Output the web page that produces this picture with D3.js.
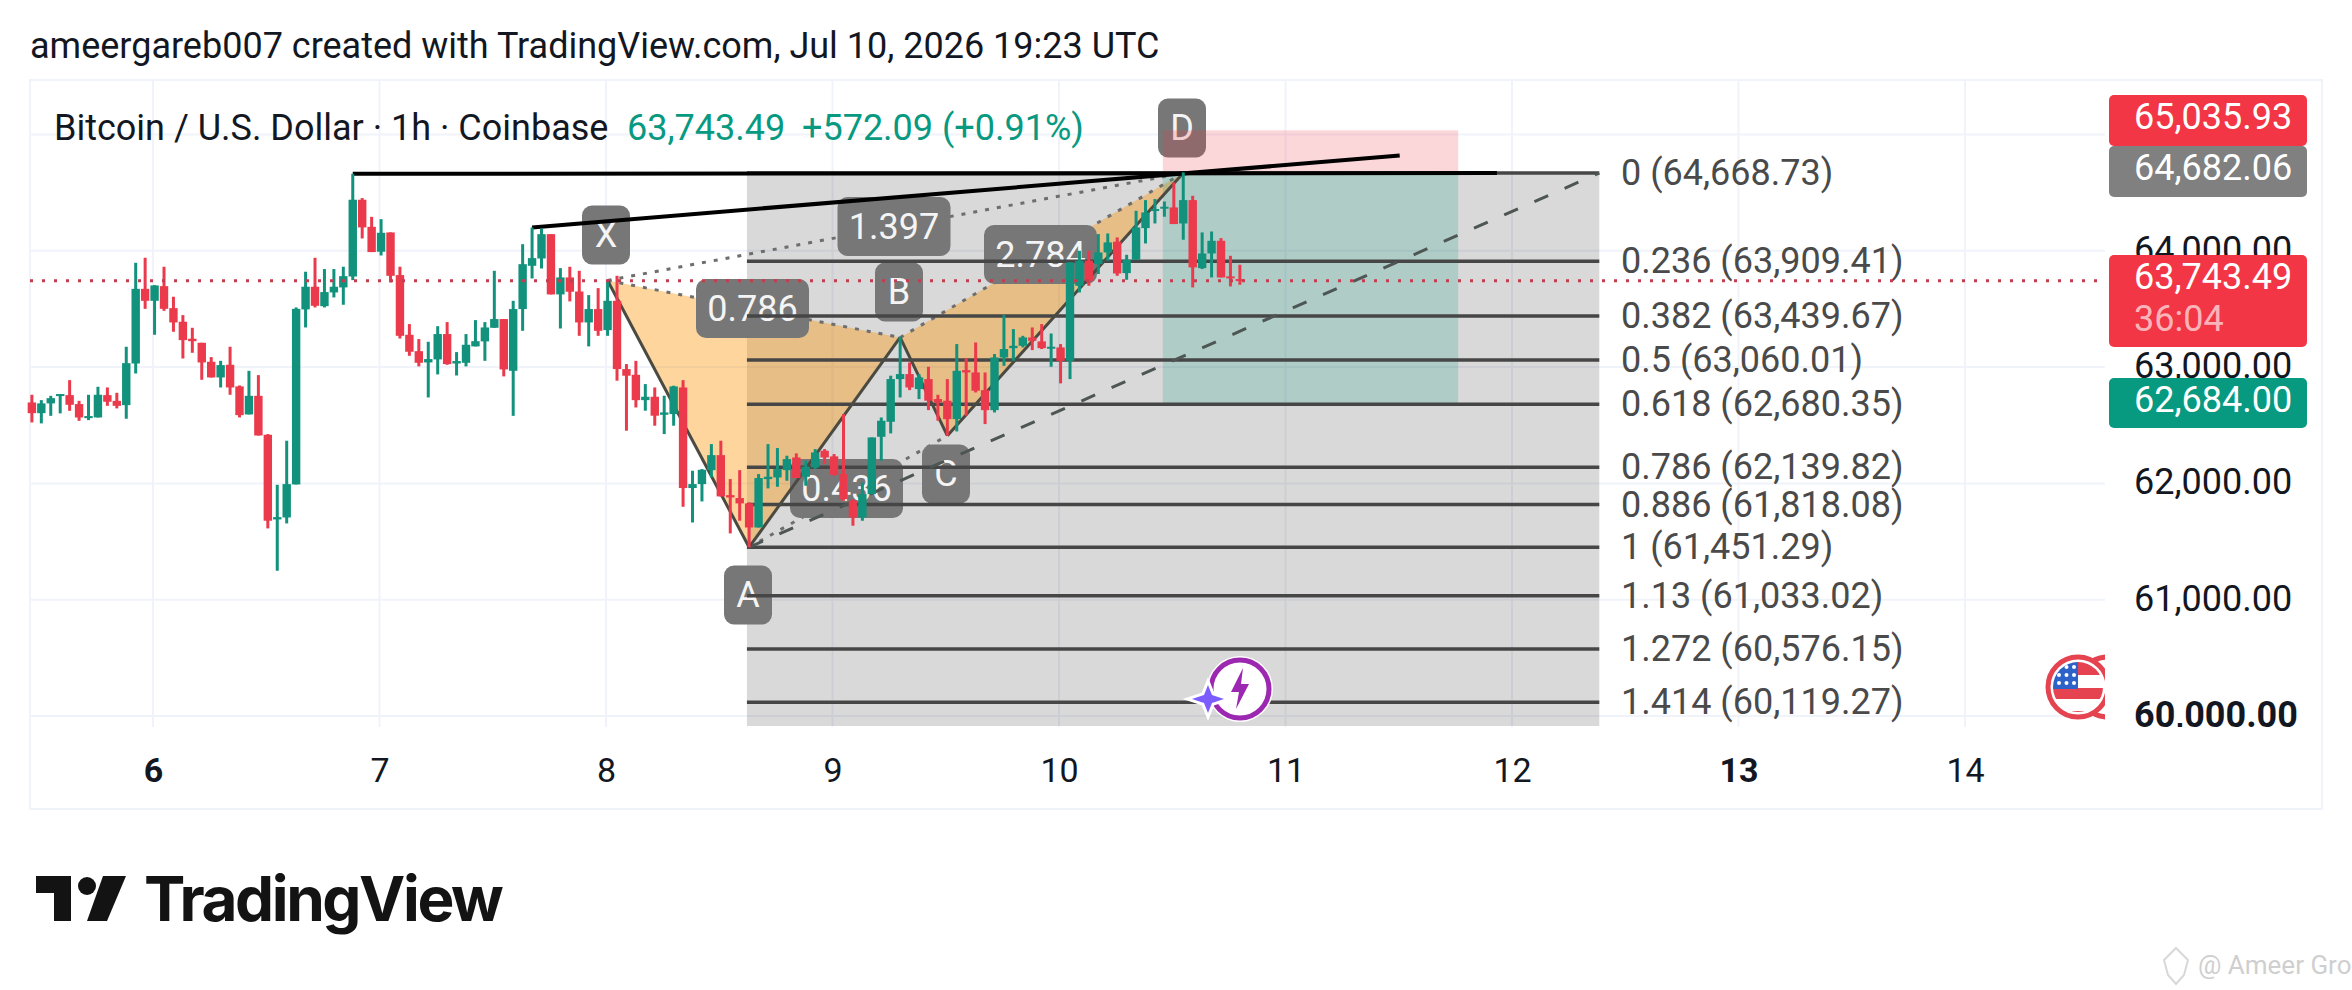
<!DOCTYPE html>
<html lang="en">
<head>
<meta charset="UTF-8">
<title>BTCUSD 1h</title>
<script src="https://d3js.org/d3.v7.min.js"></script>
<style>
  body { margin: 0; background: #fff; }
  text { font-family: Roboto, sans-serif; }
</style>
</head>
<body>
<svg id="mainsvg" width="2352" height="990"></svg>
<script>
// candles, first bar is Jul 5 11:00
const opens = [
  62696,62604,62688,62753,62759,62682,62561,62567,62759,62710,
  62673,63031,63673,63570,63696,63507,63390,63244,63209,63046,
  62911,63020,62834,62593,62753,62418,61690,61707,61991,63496,
  63691,63524,63642,63685,63779,64439,64206,63992,64158,63791,
  63278,63137,63040,63066,63284,63031,63037,63178,63221,63338,
  63413,62968,63499,63871,63934,64143,63625,63771,63650,63384,
  63499,63318,63570,62983,62934,62716,62745,62590,62596,62825,
  61960,61994,62114,62243,61899,61874,61828,61621,62037,62051,
  62114,62223,62057,62137,62281,62232,62080,61851,61707,61908,
  62401,62530,62897,62940,62811,62897,62725,62711,62553,62974,
  62954,62802,62630,63083,63163,63183,63255,63221,63163,63169,
  63054,63699,63914,63886,63986,64078,63808,63923,64195,64344,
  64367,64373,64235,64436,63851,63977,64086,63780,63757];
const highs = [
  62762,62716,62753,62768,62888,62710,62762,62831,62825,62779,
  63175,63897,63940,63705,63863,63605,63447,63338,63209,63086,
  63054,63175,62842,62968,62931,62424,61988,62367,63513,63820,
  63940,63843,63843,63863,64662,64453,64292,64272,64158,63863,
  63370,63241,63218,63352,63387,63129,63284,63404,63387,63828,
  63413,63570,64057,64201,64192,64143,63851,63863,63828,63619,
  63679,63748,63785,63026,63054,62854,62825,62754,62840,62888,
  62109,62123,62338,62367,62037,62114,61836,62080,62338,62304,
  62238,62258,62195,62295,62295,62252,62596,61865,62008,62395,
  62567,62926,63261,63040,62940,63003,62762,62897,63198,63077,
  63212,62954,63112,63450,63327,63269,63341,63370,63289,63198,
  63900,64000,64000,64144,64149,64115,63966,64344,64436,64445,
  64424,64588,64674,64473,64158,64166,64109,63957,63880];
const lows = [
  62524,62516,62581,62602,62624,62538,62544,62567,62667,62645,
  62556,62945,63501,63278,63484,63304,63074,63123,62891,62911,
  62825,62762,62567,62593,62412,61613,61249,61656,61991,63341,
  63513,63513,63599,63536,63748,64106,63989,63960,63728,63246,
  63097,63006,62739,62937,63020,62928,63006,63178,63054,63338,
  62920,62581,63312,63762,63848,63625,63332,63565,63269,63178,
  63269,63269,62883,62453,62653,62625,62496,62424,62496,61799,
  61664,61845,62051,61888,61570,61679,61450,61621,61957,61971,
  62023,62046,61980,62123,62166,62066,61851,61636,61679,61908,
  62195,62430,62739,62802,62725,62630,62539,62410,62447,62582,
  62782,62510,62610,63011,63054,63169,63146,63155,63003,62860,
  62897,63642,63699,63800,63914,63785,63751,63923,64063,64235,
  64293,64230,64095,63685,63843,63771,63771,63694,63708];
const closes = [
  62604,62688,62733,62768,62676,62567,62579,62762,62702,62667,
  63034,63673,63570,63702,63501,63384,63232,63223,63040,62911,
  63017,62825,62587,62753,62412,61679,61710,61994,63501,63691,
  63527,63645,63691,63782,64439,64201,63989,64155,63785,63269,
  63132,63037,63069,63284,63026,63052,63192,63223,63341,63413,
  62980,63499,63885,63937,64143,63625,63771,63648,63384,63499,
  63312,63570,62983,62926,62716,62745,62582,62610,62834,61960,
  61994,62117,62243,61888,61879,61828,61621,62046,62057,62123,
  62209,62046,62143,62266,62223,62074,61865,61707,61908,62395,
  62539,62897,62940,62825,62911,62711,62696,62553,62968,62954,
  62797,62630,63083,63155,63183,63255,63226,63163,63175,63054,
  63900,63914,63742,63986,64072,63805,63923,64201,64330,64359,
  64379,64230,64436,63857,63977,64086,63771,63765,63743.49];

const dayTicks = [6,7,8,9,10,11,12,13,14];
const boldDays = [6,13];
const priceTicks = [65000,64000,63000,62000,61000,60000];
const priceLabels = [64000,63000,62000,61000,60000];

// fib retracement
const fibRatios = ['0','0.236','0.382','0.5','0.618','0.786','0.886','1','1.13','1.272','1.414'];
const fibPrices = [64668.73,63909.41,63439.67,63060.01,62680.35,62139.82,61818.08,61451.29,61033.02,60576.15,60119.27];

// harmonic pattern points: bar index + price
const patNames = ['X','A','B','C','D'];
const patBars = [61,76,92,97,122];
const patPrices = [63745,61451,63255,62410,64668.73];
const ratioText = ['0.786','0.436','1.397','2.784'];

const posEntry = 64668.73, posStop = 65035.93, posTarget = 62684;

const W = 2352, H = 990;
const svg = d3.select('#mainsvg');
const green = '#089981', red = '#f23645';
const candleGreen = '#12927c', candleRed = '#ea3a4c';

const hr = (d, h, m) => new Date(Date.UTC(2026, 6, d, h, m || 0));
const barTime = i => new Date(Date.UTC(2026, 6, 5, 11 + i, 10));

const xScale = d3.scaleUtc().domain([hr(6,0), hr(14,0)]).range([153, 1965]);
const yScale = d3.scaleLinear().domain([60000, 65000]).range([716, 134.5]);
const X = d => xScale(d), Y = p => yScale(p);

// frame + grid
svg.append('rect').attr('x',30).attr('y',80).attr('width',2292).attr('height',729)
  .attr('fill','#fff').attr('stroke','#f0f3fa').attr('stroke-width',2);
const gridColor = '#f0f3fa';
svg.append('g').selectAll('line').data(dayTicks).join('line')
  .attr('x1', d => X(hr(d,0))).attr('x2', d => X(hr(d,0)))
  .attr('y1', 80).attr('y2', 727).attr('stroke', gridColor).attr('stroke-width', 2);
svg.append('g').selectAll('line').data(priceTicks).join('line')
  .attr('x1', 30).attr('x2', 2105)
  .attr('y1', d => Y(d)).attr('y2', d => Y(d)).attr('stroke', gridColor).attr('stroke-width', 2);

// fib background
const fibLeft = hr(8,14,56), fibRight = hr(12,9,15);
svg.append('rect').attr('x', X(fibLeft)).attr('width', X(fibRight) - X(fibLeft))
  .attr('y', Y(fibPrices[0])).attr('height', 726 - Y(fibPrices[0]))
  .attr('fill', 'rgba(0,0,0,0.15)');

// pattern fill
const pt = i => [X(barTime(patBars[i])), Y(patPrices[i])];
const tri = (a, b, c) => 'M' + [pt(a), pt(b), pt(c)].join('L') + 'Z';
const pat = svg.append('g');
[[0,1,2],[2,3,4]].forEach(t => {
  pat.append('path').attr('d', tri(t[0],t[1],t[2])).attr('fill', 'rgba(250,150,10,0.4)');
});
// dotted sides
[[0,2],[2,4],[0,4],[1,3]].forEach(s => {
  pat.append('line')
    .attr('x1', pt(s[0])[0]).attr('y1', pt(s[0])[1])
    .attr('x2', pt(s[1])[0]).attr('y2', pt(s[1])[1])
    .attr('stroke', '#6e6e6e').attr('stroke-width', 3).attr('stroke-dasharray', '4 8');
});

// gray tags of the pattern
const tagW = 48, ratioW = 113, tagH = 59;
const patTagPos = [[606,235],[748,595],[899,292],[946,474],[1182,128]];
const ratioPos = [[752.5,308.5],[846.5,488.5],[894,226.5],[1040.5,254.5]];
const tags = svg.append('g');
function addTag(cx, cy, w, label) {
  tags.append('rect').attr('x', cx - w/2).attr('y', cy - tagH/2).attr('width', w).attr('height', tagH)
    .attr('rx', 10).attr('fill', '#777');
  tags.append('text').attr('x', cx).attr('y', cy).attr('text-anchor','middle')
    .attr('dominant-baseline','central').attr('font-size', 36).attr('fill','#f4f4f4').text(label);
}
patNames.forEach((n, i) => addTag(patTagPos[i][0], patTagPos[i][1], tagW, n));
ratioText.forEach((t, i) => addTag(ratioPos[i][0], ratioPos[i][1], ratioW, t));

// long position box
const posLeft = hr(10,11), posRight = hr(11,18,18);
svg.append('rect').attr('x', X(posLeft)).attr('width', X(posRight)-X(posLeft))
  .attr('y', Y(posStop)).attr('height', Y(posEntry)-Y(posStop)).attr('fill','rgba(242,54,69,0.2)');
svg.append('rect').attr('x', X(posLeft)).attr('width', X(posRight)-X(posLeft))
  .attr('y', Y(posEntry)).attr('height', Y(posTarget)-Y(posEntry)).attr('fill','rgba(8,153,129,0.2)');

// fib lines and labels
svg.append('g').selectAll('line').data(fibPrices).join('line')
  .attr('x1', X(fibLeft)).attr('x2', X(fibRight))
  .attr('y1', d => Y(d)).attr('y2', d => Y(d))
  .attr('stroke', '#464646').attr('stroke-width', 3.5);
svg.append('g').selectAll('text').data(fibPrices).join('text')
  .attr('x', 1621).attr('y', d => Y(d)).attr('dominant-baseline','central')
  .attr('font-size', 36).attr('fill', '#4a4a4a')
  .text((d, i) => fibRatios[i] + ' (' + d3.format(',.2f')(d) + ')');

// fib trend line
svg.append('line')
  .attr('x1', pt(1)[0]).attr('y1', pt(1)[1])
  .attr('x2', X(fibRight)).attr('y2', Y(fibPrices[0]))
  .attr('stroke', '#4d5653').attr('stroke-width', 3).attr('stroke-dasharray', '15 18');

// solid pattern legs
[[0,1],[1,2],[2,3],[3,4]].forEach(s => {
  svg.append('line')
    .attr('x1', pt(s[0])[0]).attr('y1', pt(s[0])[1])
    .attr('x2', pt(s[1])[0]).attr('y2', pt(s[1])[1])
    .attr('stroke', '#4a4a42').attr('stroke-width', 3);
});

// black trend lines
const line = d3.line().x(d => X(d[0])).y(d => Y(d[1]));
const trends = [
  [[barTime(34), highs[34]], [hr(11,22,24), 64668]],
  [[barTime(53), highs[53]], [hr(11,12,6), 64819]]
];
svg.append('g').selectAll('path').data(trends).join('path')
  .attr('d', line).attr('fill','none').attr('stroke','#000').attr('stroke-width',4);

// candles
const bars = d3.range(opens.length);
const barColor = i => closes[i] >= opens[i] ? candleGreen : candleRed;
const candles = svg.append('g');
candles.selectAll('line').data(bars).join('line')
  .attr('x1', i => X(barTime(i))).attr('x2', i => X(barTime(i)))
  .attr('y1', i => Y(highs[i])).attr('y2', i => Y(lows[i]))
  .attr('stroke', barColor).attr('stroke-width', 3);
candles.selectAll('rect').data(bars).join('rect')
  .attr('x', i => X(barTime(i)) - 4.2).attr('width', 8.4)
  .attr('y', i => Y(Math.max(opens[i], closes[i])))
  .attr('height', i => Math.max(2, Math.abs(Y(opens[i]) - Y(closes[i]))))
  .attr('fill', barColor);

// last price line
const lastPrice = closes[closes.length - 1];
svg.append('line').attr('x1', 30).attr('x2', 2100)
  .attr('y1', Y(lastPrice)).attr('y2', Y(lastPrice))
  .attr('stroke', '#c43c50').attr('stroke-width', 3).attr('stroke-dasharray', '3 9');

// time axis
const xAxis = d3.axisBottom(xScale)
  .tickValues(dayTicks.map(d => hr(d,0)))
  .tickFormat(d => d.getUTCDate()).tickSize(0);
const xg = svg.append('g').attr('transform', 'translate(0,755)').call(xAxis);
xg.select('.domain').remove();
xg.selectAll('text').attr('font-size', 34).attr('fill', '#131722').attr('font-family', 'Roboto')
  .attr('font-weight', d => boldDays.includes(d.getUTCDate()) ? 700 : 400);

// price axis, the tags sit on top of it
svg.append('clipPath').attr('id','axisclip').append('rect').attr('x',2100).attr('y',80).attr('width',220).attr('height',647);
const yAxis = d3.axisRight(yScale).tickValues(priceLabels)
  .tickFormat(d3.format(',.2f')).tickSize(0);
const yg = svg.append('g').attr('clip-path','url(#axisclip)')
  .append('g').attr('transform', 'translate(2134,-1)').call(yAxis);
yg.select('.domain').remove();
yg.selectAll('text').attr('x', 0).attr('font-size', 36).attr('fill', '#131722').attr('font-family', 'Roboto')
  .attr('dy', '0.32em')
  .attr('font-weight', d => d === 60000 ? 700 : 400);

// price tags
const priceTagText = ['65,035.93','64,682.06','63,743.49','62,684.00'];
const priceTagTop = [95,146,255,378];
const priceTagBottom = [146,197,347,428];
const priceTagFill = [red,'#808080',red,green];
const priceTagTextY = [117,168,277,400];
svg.append('g').selectAll('rect').data(priceTagText).join('rect')
  .attr('x', 2109).attr('width', 198).attr('y', (d,i) => priceTagTop[i])
  .attr('height', (d,i) => priceTagBottom[i] - priceTagTop[i]).attr('rx', 5)
  .attr('fill', (d,i) => priceTagFill[i]);
svg.append('g').selectAll('text').data(priceTagText).join('text')
  .attr('x', 2134).attr('y', (d,i) => priceTagTextY[i]).attr('dominant-baseline','central')
  .attr('font-size', 36).attr('fill','#fff').text(d => d);
svg.append('text').attr('x',2134).attr('y',319).attr('dominant-baseline','central')
  .attr('font-size',36).attr('fill','rgba(255,255,255,0.65)').text('36:04');

// header
svg.append('text').attr('x',30).attr('y',46).attr('dominant-baseline','central')
  .attr('font-size',36).attr('fill','#131722')
  .text('ameergareb007 created with TradingView.com, Jul 10, 2026 19:23 UTC');
svg.append('text').attr('x',54).attr('y',128).attr('dominant-baseline','central')
  .attr('font-size',36).attr('fill','#131722').text('Bitcoin / U.S. Dollar · 1h · Coinbase');
svg.append('text').attr('x',627).attr('y',128).attr('dominant-baseline','central')
  .attr('font-size',36).attr('fill',green).text('63,743.49');
svg.append('text').attr('x',802).attr('y',128).attr('dominant-baseline','central')
  .attr('font-size',36).attr('fill',green).text('+572.09 (+0.91%)');

// event icons
const bolt = svg.append('g');
bolt.append('circle').attr('cx',1240).attr('cy',689).attr('r',33).attr('fill','#fff');
bolt.append('circle').attr('cx',1240).attr('cy',689).attr('r',29).attr('fill','#fff').attr('stroke','#9c27b0').attr('stroke-width',5);
bolt.append('path').attr('d','M1243 668L1231 692L1239 692L1236 709L1249 684L1241 684Z').attr('fill','#9c27b0');
bolt.append('path').attr('d','M1208 685L1212 695L1224 699L1212 703L1208 713L1204 703L1192 699L1204 695Z')
  .attr('fill','#7c5cff').attr('stroke','#fff').attr('stroke-width',6).attr('paint-order','stroke');

svg.append('clipPath').attr('id','flagclip').append('rect').attr('x',2040).attr('y',640).attr('width',65).attr('height',100);
const flag = svg.append('g').attr('clip-path','url(#flagclip)');
flag.append('circle').attr('cx',2108).attr('cy',687).attr('r',30).attr('fill','#fff').attr('stroke','#e5434f').attr('stroke-width',5);
flag.append('circle').attr('cx',2078).attr('cy',687).attr('r',30).attr('fill','#fff').attr('stroke','#e5434f').attr('stroke-width',5);
svg.append('clipPath').attr('id','flagin').append('circle').attr('cx',2078).attr('cy',687).attr('r',25);
const flagIn = flag.append('g').attr('clip-path','url(#flagin)');
flagIn.append('rect').attr('x',2078).attr('y',662).attr('width',30).attr('height',13).attr('fill','#e5434f');
flagIn.append('rect').attr('x',2050).attr('y',688).attr('width',60).attr('height',11).attr('fill','#e5434f');
flagIn.append('rect').attr('x',2050).attr('y',711).attr('width',60).attr('height',8).attr('fill','#e5434f');
flagIn.append('rect').attr('x',2050).attr('y',660).attr('width',28).attr('height',29).attr('fill','#2d62c8');
d3.range(9).forEach(i => {
  flagIn.append('circle').attr('cx', 2059 + (i % 3) * 7.5).attr('cy', 667 + Math.floor(i / 3) * 8)
    .attr('r', 2).attr('fill', '#fff');
});

// logo
const logo = svg.append('g').attr('fill','#131313');
logo.append('path').attr('d','M36 876H71V921H54V893H36Z');
logo.append('circle').attr('cx',87).attr('cy',886).attr('r',9);
logo.append('path').attr('d','M103 876H126L107 921H87Z');
logo.append('text').attr('x',144).attr('y',921).attr('font-size',62).attr('font-weight',700)
  .style('font-family','Inter').attr('letter-spacing',-2.4).text('TradingView');

// watermark
svg.append('path').attr('d','M2176 948L2188 960L2184 975L2176 984L2168 975L2164 960Z')
  .attr('fill','none').attr('stroke','#d8d8d8').attr('stroke-width',2);
svg.append('text').attr('x',2198).attr('y',965).attr('dominant-baseline','central')
  .attr('font-size',26).attr('fill','#cfcfcf').text('@ Ameer Gro');
</script>
</body>
</html>
